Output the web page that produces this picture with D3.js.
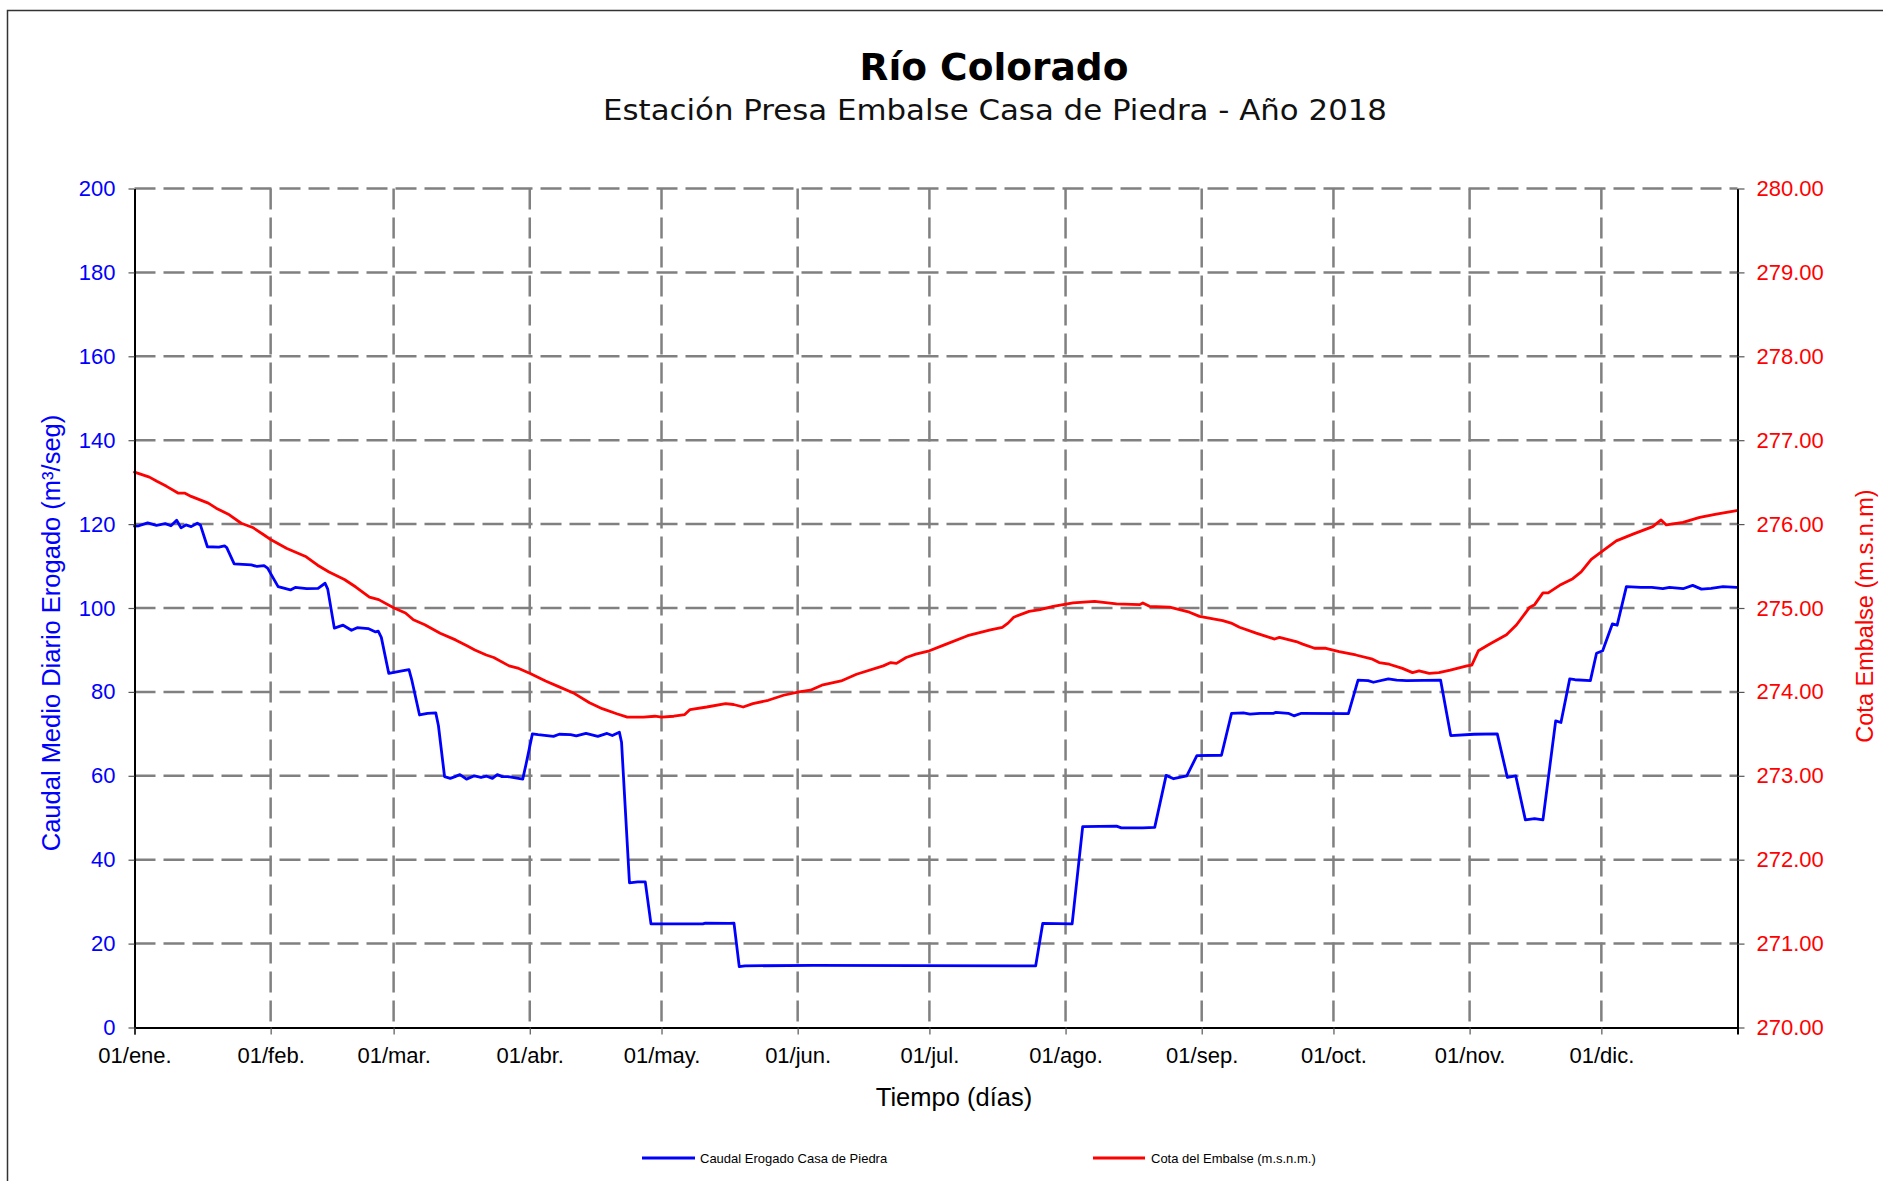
<!DOCTYPE html>
<html>
<head>
<meta charset="utf-8">
<script src="https://cdn.jsdelivr.net/npm/d3@7"></script>
<style>
  html, body { margin: 0; padding: 0; background: #fff; }
  svg { display: block; }
</style>
</head>
<body>
<svg id="chart" width="1883" height="1181"></svg>
<script>
// ---------- DATA ----------
const titleText = "Río Colorado";
const subtitleText = "Estación Presa Embalse Casa de Piedra - Año 2018";
const xAxisTitle = "Tiempo (días)";
const leftAxisTitle = "Caudal Medio Diario Erogado (m³/seg)";
const rightAxisTitle = "Cota Embalse (m.s.n.m)";
const seriesNames = ["Caudal Erogado Casa de Piedra", "Cota del Embalse (m.s.n.m.)"];

const monthLabels = ["01/ene.", "01/feb.", "01/mar.", "01/abr.", "01/may.", "01/jun.",
                     "01/jul.", "01/ago.", "01/sep.", "01/oct.", "01/nov.", "01/dic."];
const leftTicks = [0, 20, 40, 60, 80, 100, 120, 140, 160, 180, 200];
const rightTicks = [270, 271, 272, 273, 274, 275, 276, 277, 278, 279, 280];

// day of year (0 = 01/ene.) and released flow (m3/s)
const caudalDays = [0, 1, 3, 5, 7, 8.3, 9.6, 10.6, 11.7, 12.9, 14.3, 15, 16.6, 19.2, 20.5, 21,
  22.7, 26.6, 27.9, 29.5, 30.3, 32.7, 35.5, 36.6, 39.2, 41.8, 43.4, 44, 45.5, 47.5, 49.4, 50.7,
  53.2, 54.9, 55.5, 56.2, 57.9, 60.9, 62.5, 63.1, 64.9, 66.7, 68.6, 69.2, 70.6, 71.9, 73, 74.1,
  75.6, 77.4, 78.9, 80.2, 81.5, 82.6, 83.7, 85, 88.4, 89.2, 90.6, 91.9, 95.4, 96.7, 99.3, 100.6,
  102.8, 105.5, 107.6, 108.8, 110.4, 110.9, 112.7, 114.6, 116.3, 117.6, 129.4, 130, 135.5, 136.5,
  137.7, 139, 154.7, 205.2, 206.8, 213.5, 215.9, 223.6, 224.7, 229.6, 232.3, 234.9, 236.6, 239.6,
  241.9, 247.5, 249.8, 252.5, 254, 256.3, 259.3, 259.9, 262.7, 264, 265.7, 276.4, 278.6, 280.9,
  282.1, 285.5, 287.4, 289.7, 297.4, 299.7, 305, 310.3, 312.6, 314.5, 316.7, 318.8, 320.7, 323.6,
  324.8, 326.8, 328, 331.5, 332.9, 334.3, 336.5, 337.6, 339.7, 343, 345.5, 348, 349.5, 352.6,
  354.8, 356.8, 359, 361.7, 364.8];
const caudalValues = [119.5, 119.6, 120.3, 119.7, 120.1, 119.6, 120.9, 119.1, 119.8, 119.4, 120.2, 119.8, 114.6, 114.5, 114.8, 114.4,
  110.5, 110.3, 109.9, 110.1, 109.5, 105.1, 104.3, 104.9, 104.6, 104.7, 105.9, 104.5, 95.2, 95.9, 94.7, 95.3,
  95.1, 94.3, 94.5, 93, 84.4, 85.0, 85.3, 83, 74.5, 74.9, 75.0, 72, 59.8, 59.4, 59.8, 60.3,
  59.2, 60.0, 59.6, 59.9, 59.4, 60.3, 59.8, 59.8, 59.2, 63, 70.0, 69.8, 69.4, 69.9, 69.8, 69.5,
  70.1, 69.4, 70.1, 69.6, 70.4, 68, 34.5, 34.7, 34.7, 24.7, 24.7, 24.9, 24.8, 24.9,
  14.5, 14.7, 14.8, 14.7, 24.8, 24.7, 47.9, 48.0, 47.6, 47.6, 47.7, 60.1, 59.3, 60.0,
  64.8, 64.9, 74.9, 75.0, 74.7, 74.9, 74.9, 75.1, 74.9, 74.3, 74.9, 74.8, 82.8, 82.7,
  82.3, 83.1, 82.8, 82.7, 82.8, 69.6, 69.9, 70.0, 59.6, 60.0, 49.5, 49.8, 49.5, 73.1,
  72.7, 83.1, 82.9, 82.7, 89.2, 89.8, 96.2, 95.9, 105.1, 104.9, 104.9, 104.6, 104.9, 104.6,
  105.4, 104.5, 104.7, 105.1, 104.9];

// day of year and reservoir level (m.s.n.m.)
const cotaDays = [0, 3.4, 5.1, 7.3, 9.9, 11.4, 12.9, 16.8, 18.6, 21.6, 24.3, 26.9, 29.5, 31.2, 34.7,
  39.1, 41.7, 44.3, 47.8, 50.4, 53.5, 55.6, 59.1, 61.7, 63.5, 66.1, 69.6, 73.1, 75.7, 77.5, 80.1,
  81.8, 85.3, 87.5, 90.1, 93.6, 96.7, 100.2, 103.6, 106.5, 109.8, 112.2, 115.9, 118.5, 120, 122.8,
  125.3, 126.5, 130.3, 134.6, 136.4, 138.6, 140.8, 144.3, 147.8, 151.3, 153.9, 156.5, 160.9, 164.4,
  170.5, 172.2, 173.5, 175.7, 177.9, 181, 184.4, 189.7, 194.9, 197.6, 198.9, 200.2, 203.7, 206.2,
  209.2, 213.7, 218.6, 223.6, 228.9, 229.6, 231.1, 235.7, 240.2, 242.5, 247.8, 249.7, 251.6, 255.4,
  259.6, 260.7, 264.5, 266, 268.7, 271.3, 274.3, 278.1, 281.9, 283.4, 285.7, 288.7, 291, 292.5,
  294.8, 297, 299.6, 303.4, 304.5, 306, 308.6, 312.4, 314.7, 317.7, 318.8, 320.7, 321.9, 324.5,
  327.5, 329.4, 331.7, 334, 337.4, 341.2, 345.7, 347.6, 348.8, 352.6, 356.4, 360.2, 364.8];
const cotaValues = [276.62, 276.56, 276.51, 276.45, 276.37, 276.37, 276.33, 276.25, 276.19, 276.11, 276.01, 275.96, 275.87, 275.81, 275.71,
  275.61, 275.51, 275.43, 275.34, 275.25, 275.13, 275.10, 275.00, 274.94, 274.86, 274.80, 274.70, 274.62, 274.55, 274.50, 274.44,
  274.41, 274.31, 274.28, 274.22, 274.13, 274.06, 273.98, 273.87, 273.80, 273.74, 273.70, 273.70, 273.71, 273.70, 273.71,
  273.73, 273.79, 273.82, 273.86, 273.85, 273.82, 273.86, 273.90, 273.96, 274.00, 274.02, 274.08, 274.13, 274.21,
  274.31, 274.35, 274.34, 274.41, 274.45, 274.49, 274.56, 274.67, 274.74, 274.77, 274.82, 274.89, 274.96, 274.98,
  275.02, 275.06, 275.08, 275.05, 275.04, 275.06, 275.02, 275.01, 274.95, 274.90, 274.85, 274.82, 274.77, 274.70,
  274.63, 274.65, 274.60, 274.57, 274.52, 274.52, 274.48, 274.44, 274.39, 274.35, 274.33, 274.28, 274.23, 274.25,
  274.22, 274.23, 274.26, 274.31, 274.32, 274.49, 274.57, 274.68, 274.80, 275.01, 275.04, 275.18, 275.18, 275.27,
  275.35, 275.43, 275.58, 275.67, 275.80, 275.88, 275.97, 276.05, 275.99, 276.02, 276.08, 276.12, 276.16];

// ---------- CHART ----------
const svg = d3.select("#chart");
const W = 1883, H = 1181;
const plot = { left: 134.5, right: 1737.5, top: 188.5, bottom: 1027.5 };

const start = new Date(Date.UTC(2018, 0, 1));
const end = new Date(Date.UTC(2019, 0, 1));
const dayToDate = d => new Date(start.getTime() + d * 86400000);
const monthDates = d3.range(12).map(m => new Date(Date.UTC(2018, m, 1)));

const x = d3.scaleUtc().domain([start, end]).range([plot.left, plot.right]);
const yL = d3.scaleLinear().domain([0, 200]).range([plot.bottom, plot.top]);
const yR = d3.scaleLinear().domain([270, 280]).range([plot.bottom, plot.top]);

const FONT = "'Liberation Sans', Arial, sans-serif";

// outer frame
svg.append("rect")
  .attr("x", 7.5).attr("y", 10.5).attr("width", W + 20).attr("height", H + 20)
  .attr("fill", "none").attr("stroke", "#333").attr("stroke-width", 1.5);

// titles
svg.append("text")
  .attr("x", 994).attr("y", 80)
  .attr("text-anchor", "middle")
  .attr("font-family", "'DejaVu Sans', Verdana, sans-serif")
  .attr("font-weight", "bold").attr("font-size", 37.5)
  .attr("fill", "#000").text(titleText);

svg.append("text")
  .attr("x", 995).attr("y", 120)
  .attr("text-anchor", "middle")
  .attr("font-family", "'DejaVu Sans', Verdana, sans-serif")
  .attr("font-size", 28)
  .attr("textLength", 784).attr("lengthAdjust", "spacingAndGlyphs")
  .attr("fill", "#111").text(subtitleText);

// gridlines
const grid = svg.append("g").attr("stroke", "#808080").attr("stroke-width", 2.5)
  .attr("stroke-dasharray", "21,8").attr("fill", "none");
grid.selectAll("line.h").data(leftTicks.filter(t => t > 0)).join("line")
  .attr("class", "h")
  .attr("x1", plot.left).attr("x2", plot.right)
  .attr("y1", d => yL(d)).attr("y2", d => yL(d));
grid.selectAll("line.v").data(monthDates.slice(1)).join("line")
  .attr("class", "v")
  .attr("x1", d => x(d)).attr("x2", d => x(d))
  .attr("y1", plot.top).attr("y2", plot.bottom);

// series lines
const caudal = caudalDays.map((d, i) => ({ date: dayToDate(d), v: caudalValues[i] }));
const cota = cotaDays.map((d, i) => ({ date: dayToDate(d), v: cotaValues[i] }));

svg.append("path").datum(cota)
  .attr("fill", "none").attr("stroke", "#ff0000").attr("stroke-width", 2.8)
  .attr("stroke-linejoin", "round").attr("stroke-linecap", "round")
  .attr("d", d3.line().x(d => x(d.date)).y(d => yR(d.v)));

svg.append("path").datum(caudal)
  .attr("fill", "none").attr("stroke", "#0000ff").attr("stroke-width", 2.8)
  .attr("stroke-linejoin", "round").attr("stroke-linecap", "round")
  .attr("d", d3.line().x(d => x(d.date)).y(d => yL(d.v)));

// axes
const axL = svg.append("g").attr("transform", `translate(${plot.left},0)`)
  .call(d3.axisLeft(yL).tickValues(leftTicks).tickSize(6).tickSizeOuter(0).tickPadding(13).tickFormat(d3.format("d")));
axL.select(".domain").attr("stroke", "#000").attr("stroke-width", 2);
axL.selectAll(".tick line").attr("stroke", "#555").attr("stroke-width", 1.2);
axL.selectAll(".tick text").attr("font-family", FONT).attr("font-size", 22).attr("fill", "#0000ff");

const axR = svg.append("g").attr("transform", `translate(${plot.right},0)`)
  .call(d3.axisRight(yR).tickValues(rightTicks).tickSize(7).tickSizeOuter(0).tickPadding(12).tickFormat(d3.format(".2f")));
axR.select(".domain").attr("stroke", "#000").attr("stroke-width", 2);
axR.selectAll(".tick line").attr("stroke", "#555").attr("stroke-width", 1.2);
axR.selectAll(".tick text").attr("font-family", FONT).attr("font-size", 22).attr("fill", "#ff0000");

const axB = svg.append("g").attr("transform", `translate(0,${plot.bottom})`)
  .call(d3.axisBottom(x).tickValues(monthDates).tickSize(7).tickSizeOuter(7).tickPadding(13)
    .tickFormat((d, i) => monthLabels[i]));
axB.select(".domain").attr("stroke", "#000").attr("stroke-width", 2);
axB.selectAll(".tick line").attr("stroke", "#555").attr("stroke-width", 1.2);
axB.selectAll(".tick text").attr("font-family", FONT).attr("font-size", 22).attr("fill", "#000");

// axis titles
svg.append("text")
  .attr("x", 954).attr("y", 1106)
  .attr("text-anchor", "middle").attr("font-family", FONT).attr("font-size", 25.5)
  .attr("fill", "#000").text(xAxisTitle);

svg.append("text")
  .attr("transform", "translate(51,633) rotate(-90)")
  .attr("text-anchor", "middle").attr("dy", "0.35em")
  .attr("font-family", FONT).attr("font-size", 25.5)
  .attr("fill", "#0000ff").text(leftAxisTitle);

svg.append("text")
  .attr("transform", "translate(1865,616) rotate(-90)")
  .attr("text-anchor", "middle").attr("dy", "0.35em")
  .attr("font-family", FONT).attr("font-size", 23.5)
  .attr("fill", "#ff0000").text(rightAxisTitle);

// legend
const legendItems = [
  { name: seriesNames[0], color: "#0000ff", x1: 642, x2: 695, tx: 700 },
  { name: seriesNames[1], color: "#ff0000", x1: 1093, x2: 1145, tx: 1151 }
];
const lg = svg.append("g");
lg.selectAll("line").data(legendItems).join("line")
  .attr("x1", d => d.x1).attr("x2", d => d.x2)
  .attr("y1", 1158).attr("y2", 1158)
  .attr("stroke", d => d.color).attr("stroke-width", 2.8);
lg.selectAll("text").data(legendItems).join("text")
  .attr("x", d => d.tx).attr("y", 1163)
  .attr("font-family", FONT).attr("font-size", 13)
  .attr("fill", "#000").text(d => d.name);
</script>
</body>
</html>
